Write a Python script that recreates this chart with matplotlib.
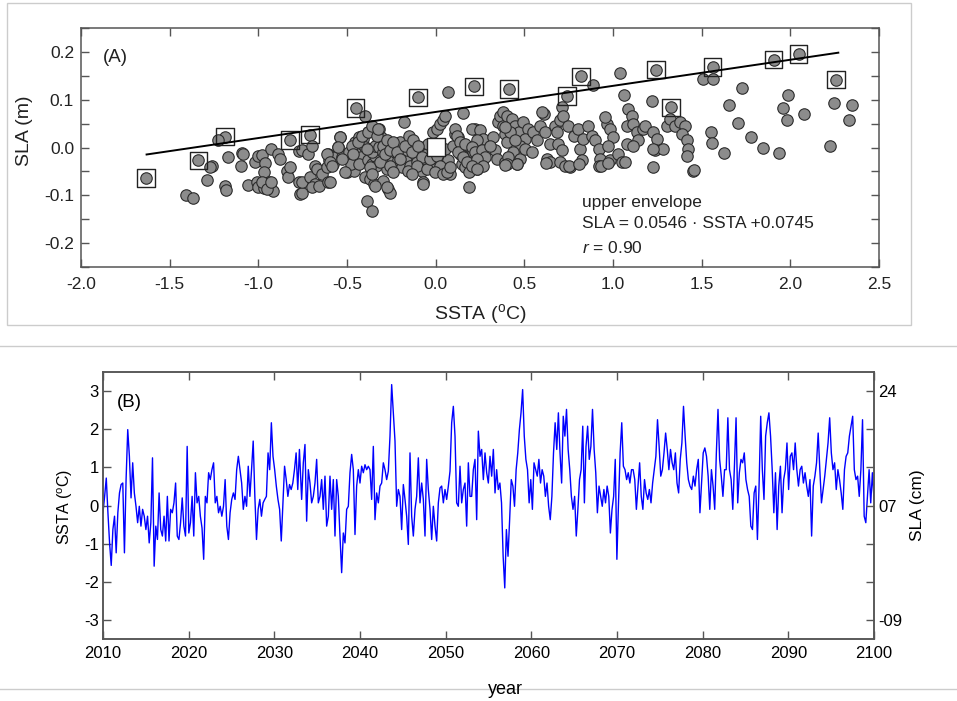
import numpy as np
import matplotlib
matplotlib.use('Agg')
import matplotlib.pyplot as plt
from matplotlib.lines import Line2D
from matplotlib.patches import Rectangle
from matplotlib.ticker import MultipleLocator, FormatStrFormatter

plt.rcParams['font.family'] = ['Liberation Sans', 'DejaVu Sans']
plt.rcParams['mathtext.fontset'] = 'custom'
plt.rcParams['mathtext.rm'] = 'Liberation Sans'
plt.rcParams['mathtext.it'] = 'Liberation Sans:italic'
plt.rcParams['axes.unicode_minus'] = False

# ---- panel A: SSTA vs SLA scatter ----
ssta = [-1.633, -1.338, -1.188, -0.821, -0.708, -0.451, -0.101, 0.217, 0.414, 0.739,
        0.818, 1.241, 1.328, 1.561, 1.905, 2.046, 2.258,
        -1.41, -1.37, -1.29, -1.26, -1.27, -1.19, -1.18, -1.23, -1.17, -1.09,
        -1.10, -1.06, -1.02, -1.00, -0.98, -0.96, -0.97, -1.01, -1.00, -0.97,
        -0.94, -0.92, -0.93, -0.89, -0.88, -0.84, -0.83, -0.82, -0.77, -0.77,
        -0.765, -1.085, -0.98, -0.95, -0.93, -0.755, -0.755, -0.755, -0.72, -0.71,
        -0.68, -0.70, -0.66, -0.68, -0.67, -0.70, -0.64, -0.605, -0.60, -0.61,
        -0.605, -0.58, -0.57, -0.55, -0.54, -0.53, -0.50, -0.46, -0.48, -0.49,
        -0.46, -0.445, -0.455, -0.43, -0.41, -0.40, -0.42, -0.43, -0.40, -0.38,
        -0.39, -0.36, -0.40, -0.37, -0.35, -0.38, -0.36, -0.34, -0.335, -0.36,
        -0.34, -0.32, -0.31, -0.32, -0.295, -0.285, -0.295, -0.267, -0.257, -0.276,
        -0.248, -0.239, -0.229, -0.21, -0.19, -0.18, -0.20, -0.17, -0.16, -0.15,
        -0.135, -0.144, -0.154, -0.116, -0.107, -0.088, -0.078, -0.069, -0.06, -0.05,
        -0.032, -0.041, -0.013, 0.006, 0.025, 0.043, 0.053, 0.072, 0.156, 0.006,
        0.034, 0.053, 0.062, 0.081, 0.072, 0.100, 0.109, 0.128, 0.137, 0.147,
        0.166, 0.175, 0.185, 0.194, 0.213, 0.222, 0.232,
        -0.614, -0.596, -0.586, -0.596, -0.539, -0.549, -0.530, -0.511, -0.473, -0.464,
        -0.436, -0.417, -0.389, -0.380, -0.361, -0.333, -0.323, -0.370, -0.361, -0.314,
        -0.295, -0.285, -0.276, -0.257, -0.239, -0.220, -0.201, -0.257, -0.239, -0.276,
        -0.342, -0.173, -0.135, -0.126, -0.098, -0.078, -0.107, -0.135, -0.069, -0.050,
        -0.032, -0.013, 0.006, 0.025, -0.003, 0.043, 0.062, 0.081, 0.109, 0.119,
        0.137, 0.128, 0.156, 0.175, 0.166, 0.185,
        0.204, 0.250, 0.269, 0.232, 0.204, 0.222, 0.260, 0.278, 0.232, 0.269,
        0.204, 0.232, 0.325, 0.335, 0.344, 0.307, 0.354, 0.363, 0.382, 0.391,
        0.401, 0.391, 0.382,
        0.889, 1.040, 1.059, 1.219, 0.711, 0.401, 0.429, 0.448, 0.467, 0.420,
        0.391, 0.495, 0.523, 0.504, 0.476, 0.448, 0.438, 0.410, 0.476, 0.504,
        0.457, 0.401, 0.551, 0.570, 0.542, 0.589, 0.608, 0.598, 0.617, 0.645,
        0.627, 0.645, 0.673, 0.683, 0.702, 0.720, 0.692, 0.711, 0.702, 0.730,
        0.758, 0.748, 0.777, 0.805, 0.814, 0.833, 0.824, 0.861, 0.880, 0.899,
        0.918, 0.927, 0.918, 0.965, 0.955, 0.984, 1.002, 0.974, 0.984, 1.030,
        1.049, 1.078, 1.078, 1.087, 1.106, 1.115, 1.068, 1.134, 1.143, 1.115,
        1.171, 1.181, 1.228, 1.247, 1.237, 1.284, 1.228, 1.303, 1.322, 1.350,
        1.378, 1.406, 1.388, 1.416, 1.425, 1.416, 1.453, 1.228,
        0.39, 0.46, 0.62, 0.75, 0.81, 0.93, 0.97,
        1.507, 1.566, 1.726, 1.651, 1.707, 1.779, 1.848, 1.937, 1.551, 1.557,
        1.628, 1.459, 1.986, 1.958, 1.980, 2.078, 2.221, 2.247, 2.347, 2.328]

sla = [-0.064, -0.027, 0.023, 0.016, 0.027, 0.083, 0.105, 0.128, 0.123, 0.108,
       0.149, 0.163, 0.084, 0.168, 0.184, 0.196, 0.142,
       -0.099, -0.105, -0.067, -0.038, -0.040, -0.080, -0.088, 0.016, -0.019, -0.012,
       -0.038, -0.078, -0.031, -0.017, -0.015, -0.032, -0.052, -0.073, -0.083, -0.085,
       -0.073, -0.090, -0.003, -0.013, -0.024, -0.048, -0.062, -0.041, -0.008, -0.073,
       -0.097, -0.013, -0.073, -0.087, -0.073, -0.006, -0.096, -0.073, -0.013, -0.062,
       -0.076, -0.083, -0.080, -0.038, -0.045, 0.004, -0.055, -0.013, -0.027, -0.041,
       -0.073, -0.034, -0.020, 0.001, 0.023, -0.020, -0.052, -0.048, -0.034, -0.010,
       -0.003, -0.013, 0.011, 0.023, 0.018, 0.001, -0.020, -0.034, 0.067, 0.032,
       -0.111, -0.132, -0.062, -0.066, -0.076, -0.027, -0.034, -0.017, -0.038, -0.010,
       0.004, 0.001, 0.022, 0.039, -0.010, -0.027, -0.069, -0.087, -0.094, -0.045,
       -0.020, 0.004, -0.010, -0.027, -0.041, 0.053, 0.011, -0.020, -0.006, 0.025,
       0.001, -0.038, -0.048, -0.013, -0.031, 0.001, -0.048, -0.073, -0.024, -0.013,
       -0.041, 0.008, 0.032, 0.039, 0.050, 0.057, 0.067, 0.116, 0.072, -0.020,
       -0.010, -0.003, -0.048, -0.055, -0.027, 0.004, 0.029, 0.022, -0.013, -0.034,
       -0.041, -0.024, -0.083, 0.001, -0.010, 0.039, -0.045,
       -0.013, -0.031, -0.038, -0.073, 0.022, 0.001, -0.024, -0.052, 0.004, -0.013,
       0.011, 0.025, -0.003, 0.032, 0.046, 0.025, 0.039, -0.041, -0.055, -0.031,
       0.004, -0.013, 0.015, -0.006, 0.011, -0.010, -0.024, -0.038, -0.052, -0.083,
       -0.080, 0.004, -0.010, 0.015, 0.004, -0.020, -0.038, -0.055, -0.076, -0.045,
       -0.024, -0.006, -0.017, -0.038, -0.052, -0.055, -0.052, -0.041, 0.039, 0.025,
       0.011, -0.010, -0.020, -0.031, 0.008, -0.052,
       0.039, 0.036, 0.018, 0.015, 0.001, -0.010, -0.006, -0.020, -0.024, -0.038,
       -0.038, -0.045, 0.022, -0.006, -0.024, 0.004, 0.053, 0.067, 0.046, 0.029,
       0.011, -0.031, 0.074,
       0.130, 0.156, 0.110, 0.097, 0.084, 0.067, 0.060, 0.046, 0.032, 0.032,
       0.043, 0.053, 0.039, 0.018, 0.004, 0.015, -0.010, -0.020, -0.024, -0.003,
       -0.034, -0.034, 0.032, 0.015, -0.010, 0.046, 0.071, 0.074, 0.032, 0.008,
       -0.024, -0.031, 0.046, 0.032, 0.057, 0.067, 0.008, -0.006, -0.031, -0.038,
       -0.041, 0.046, 0.025, 0.039, -0.003, 0.018, -0.027, 0.046, 0.025, 0.015,
       -0.003, -0.024, -0.038, 0.050, 0.064, 0.039, 0.022, 0.004, -0.027, -0.013,
       -0.031, 0.008, 0.046, 0.081, 0.067, 0.050, -0.031, 0.032, 0.015, 0.004,
       0.039, 0.046, 0.032, 0.018, -0.006, -0.003, -0.041, 0.046, 0.060, 0.046,
       0.053, 0.046, 0.029, 0.015, -0.003, -0.017, -0.048, -0.003,
       -0.036, -0.035, -0.032, -0.038, -0.035, -0.038, -0.032,
       0.144, 0.143, 0.124, 0.088, 0.051, 0.022, -0.001, -0.012, 0.032, 0.009,
       -0.011, -0.047, 0.109, 0.082, 0.057, 0.071, 0.004, 0.094, 0.090, 0.057]

# upper-envelope points (boxed)
env_ssta = [-1.633, -1.338, -1.188, -0.821, -0.708, -0.451, -0.101, 0.217, 0.414, 0.739,
            0.818, 1.241, 1.328, 1.561, 1.905, 2.046, 2.258]
env_sla = [-0.064, -0.027, 0.023, 0.016, 0.027, 0.083, 0.105, 0.128, 0.123, 0.108,
           0.149, 0.163, 0.084, 0.168, 0.184, 0.196, 0.142]
# the one empty (white) box
blank_ssta = [0.0]
blank_sla = [0.002]

fit_slope = 0.0546
fit_icpt = 0.0745
fit_range = [-1.63, 2.27]

# ---- panel B: SSTA time series, four stretches ----
seg1_span = (2010.0, 2032.93)
seg1 = [-0.19, 0.24, 0.72, -0.19, -0.98, -1.57, -0.63, -0.28, -1.24, -0.19,
        0.33, 0.55, 0.59, -1.24, 0.68, 1.99, 1.29, 0.20, 1.12, 0.33,
        -0.02, -0.45, -0.02, -0.54, -0.10, -0.28, -0.63, -0.28, -0.98, -0.45,
        1.25, -1.59, -0.54, -0.89, 0.33, -0.63, -0.80, -0.28, -0.93, 0.24,
        -0.93, -0.10, -0.19, 0.07, 0.59, -0.80, -0.89, -0.45, 0.20, -0.54,
        -0.80, 1.55, -0.72, -0.45, 0.24, -0.80, 0.86, 0.07, 0.24, -0.28,
        -0.59, -1.41, 0.24, 0.07, 0.86, 0.68, 0.94, 1.12, 0.07, 0.24,
        -0.19, -0.02, -0.28, -0.02, 0.68, -0.54, -0.89, -0.19, 0.16, 0.33,
        0.16, 0.94, 1.29, 0.94, 0.59, -0.10, 0.24, -0.02, 1.03, 0.24,
        0.94, 1.69, 0.24, -0.89, -0.10, 0.16, -0.28, 0.07, 0.16, 0.24,
        1.38, 0.94, 2.17, 1.29, 0.94, 0.51, 0.16, -0.10, -0.93, 0.07,
        1.03, 0.68, 0.24, 0.55, 0.42, 0.59, 0.94, 1.38, 0.42, 1.47]
seg2_span = (2033.19, 2055.76)
seg2 = [0.16, 1.12, 1.60, -0.41, 0.94, 0.59, 0.07, 0.24, 0.59, 1.21,
        0.07, 0.24, 0.68, -0.10, 0.77, -0.54, -0.28, 0.77, -0.10, 0.68,
        -0.80, 0.68, 0.24, -0.80, -1.76, -0.72, -0.98, -0.10, -0.02, 0.86,
        1.34, 0.94, -0.76, 0.51, 0.94, 0.59, 1.03, 0.86, 1.07, 0.94,
        1.03, 0.94, 0.16, 1.55, -0.37, 0.33, 0.07, 0.51, 0.59, 1.12,
        0.94, 0.68, 0.90, 1.82, 3.17, 2.43, 1.69, -0.02, 0.42, 0.24,
        -0.63, 0.55, 0.16, -0.28, -1.02, 1.38, -0.28, -0.80, -0.10, 0.24,
        1.25, 0.07, 0.59, 0.16, -0.80, 1.21, 0.42, -0.10, -0.89, -0.02,
        -0.54, -0.93, 0.07, 0.46, 0.51, 0.07, 0.42, 0.16, 0.51, 0.90,
        2.17, 2.60, 1.82, 0.07, -0.02, 1.03, 0.07, 0.42, 0.59, -0.54,
        1.12, 0.24, 0.24, 0.94, 1.21, -0.37, 1.95, 1.29, 1.47, 0.68,
        1.38, 0.86, 0.59, 1.29, 0.77, 1.47, 0.33]
seg3_span = (2055.95, 2078.52)
seg3 = [0.94, 0.42, 0.59, 0.07, -1.33, -2.16, -0.63, -1.33, -0.37, 0.68,
        0.51, -0.02, 0.94, 1.38, 1.99, 2.43, 3.04, 1.82, 1.21, 0.94,
        0.07, 0.68, -0.10, 1.12, 0.94, 0.77, 1.21, 0.59, 0.94, 0.77,
        0.24, 0.59, -0.02, -0.37, 0.24, 1.38, 2.17, 1.47, 2.43, 1.38,
        0.59, 2.34, 1.82, 2.52, 1.47, 0.94, 0.24, -0.10, 0.24, -0.80,
        -0.10, 0.68, 0.94, 2.08, 0.07, 1.55, 2.08, 1.21, 1.55, 2.52,
        1.47, 0.86, -0.19, 0.51, 0.24, -0.02, 0.42, 0.07, 0.51, 0.24,
        -0.72, -0.10, 0.24, 1.21, -1.41, 0.07, 1.38, 2.17, 1.03, 0.94,
        0.68, 0.86, 0.59, 0.94, 0.94, 0.68, -0.10, 0.51, 1.12, 0.24,
        -0.10, 0.68, 0.33, 0.16, 0.42, 0.07, 0.59, 0.94, 1.29, 2.25,
        1.55, 0.77, 0.94, 1.38, 1.90, 1.47, 0.94, 1.47, 1.12, 0.94,
        1.38, 0.59, 0.33, 1.21, 1.64, 2.60, 1.82, 1.12, 0.68, 0.51]
seg4_span = (2078.72, 2100.0)
seg4 = [0.42, 0.77, 0.51, 0.94, 1.21, -0.19, 0.59, 1.38, 1.51, 1.29,
        0.77, -0.10, 0.94, 0.51, -0.10, 1.38, 2.52, 1.21, 0.77, 0.24,
        0.94, 0.94, 2.30, 0.94, 0.68, -0.10, 1.03, 2.30, 0.07, 0.86,
        1.21, 1.12, 1.38, 0.68, 0.42, 0.24, -0.54, -0.63, 0.33, 0.51,
        -0.89, 0.51, 2.34, 0.94, 0.16, 1.82, 2.17, 2.43, 1.82, 0.94,
        -0.19, 0.86, -0.63, 0.51, 1.03, -0.19, 0.68, 0.94, 1.64, 0.42,
        1.29, 1.38, 0.94, 1.64, 0.94, 0.51, 0.94, 1.03, 0.59, 0.86,
        0.51, 0.24, 0.68, -0.80, 0.51, 0.77, 1.12, 1.90, 0.94, 0.07,
        0.42, 0.77, 1.21, 1.64, 2.30, 1.38, 0.94, 1.12, 0.42, 0.94,
        0.68, 0.33, -0.10, 0.94, 1.29, 1.38, 1.82, 2.08, 2.34, 0.94,
        0.68, 0.77, 0.24, 0.94, 2.25, -0.28, -0.45, 0.24, 0.94, 0.07,
        0.86, 0.16]

left_yticks = [3, 2, 1, 0, -1, -2, -3]
right_ylabels = ['24', '', '', '07', '', '', '-09']

txt = '#222222'
spine = '#555555'

fig = plt.figure(figsize=(9.57, 7.01), dpi=100)

# light frame round panel A and separator lines round panel B
fig.add_artist(Rectangle((7 / 957, 1 - 325 / 701), 904 / 957, 322 / 701,
                         transform=fig.transFigure, fill=False,
                         edgecolor='#cccccc', lw=1.0))
for yy in (346, 689):
    fig.add_artist(Line2D([0, 1], [1 - yy / 701] * 2, transform=fig.transFigure,
                          color='#cccccc', lw=1.0))

# ---------------- panel A ----------------
ax = fig.add_axes([0.0846, 0.619, 0.834, 0.341])
ax.scatter(ssta, sla, s=68, facecolor='#8c8c8c', edgecolor='#2b2b2b',
           linewidth=0.8, zorder=2)
ax.scatter(env_ssta, env_sla, s=160, marker='s', facecolor='none',
           edgecolor='#222222', linewidth=1.0, zorder=3)
ax.scatter(blank_ssta, blank_sla, s=160, marker='s', facecolor='white',
           edgecolor='#222222', linewidth=1.0, zorder=3)
fx = np.array(fit_range)
ax.plot(fx, fit_slope * fx + fit_icpt, color='black', lw=1.4, zorder=4)

ax.set_xlim(-2.0, 2.5)
ax.set_ylim(-0.25, 0.25)
ax.xaxis.set_major_locator(MultipleLocator(0.5))
ax.xaxis.set_major_formatter(FormatStrFormatter('%.1f'))
ax.yaxis.set_major_locator(MultipleLocator(0.1))
ax.yaxis.set_minor_locator(MultipleLocator(0.05))
ax.yaxis.set_major_formatter(FormatStrFormatter('%.1f'))
ax.tick_params(which='both', direction='in', top=True, right=True,
               length=6, width=1, color=spine, labelcolor=txt, labelsize=12.5)
ax.tick_params(axis='x', pad=7)
ax.tick_params(axis='y', pad=5)
for s in ax.spines.values():
    s.set_color(spine)
    s.set_linewidth(1.1)

ax.set_ylabel('SLA (m)', fontsize=14, color=txt)
ax.yaxis.set_label_coords(-0.060, 0.569)
ax.set_xlabel(r'SSTA ($^{\rm o}$C)', fontsize=14, color=txt)
ax.xaxis.set_label_coords(0.5, -0.145)

ax.text(-1.875, 0.189, '(A)', fontsize=13.5, color=txt, va='center')
ax.text(0.824, -0.115, 'upper envelope', fontsize=12.5, color=txt, va='center')
ax.text(0.824, -0.159, 'SLA = 0.0546 \u00b7 SSTA +0.0745', fontsize=12.5,
        color=txt, va='center')
ax.text(0.824, -0.210, r'$\it{r}$ = 0.90', fontsize=12.5, color=txt, va='center')

# ---------------- panel B ----------------
bx = fig.add_axes([0.1076, 0.0884, 0.8057, 0.3809])
years = np.concatenate([np.linspace(*seg1_span, len(seg1)),
                        np.linspace(*seg2_span, len(seg2)),
                        np.linspace(*seg3_span, len(seg3)),
                        np.linspace(*seg4_span, len(seg4))])
vals = np.concatenate([seg1, seg2, seg3, seg4])
bx.plot(years, vals, color='#0000ff', lw=1.0)

bx.set_xlim(2010, 2100)
bx.set_ylim(-3.5, 3.5)
bx.xaxis.set_major_locator(MultipleLocator(10))
bx.set_yticks(left_yticks)
bx.tick_params(which='both', direction='in', top=True, length=6, width=1,
               color=spine, labelcolor='black', labelsize=12)
bx.tick_params(axis='x', pad=5)
bx.tick_params(axis='y', pad=3)
for s in bx.spines.values():
    s.set_color(spine)
    s.set_linewidth(1.1)
bx.set_ylabel(r'SSTA ($^{\rm o}$C)', fontsize=11.5, color='black')
bx.yaxis.set_label_coords(-0.036, 0.494)
bx.text(2011.6, 2.7, '(B)', fontsize=13.5, color='black', va='center')

rx = bx.twinx()
rx.set_ylim(-3.5, 3.5)
rx.set_yticks(left_yticks)
rx.set_yticklabels(right_ylabels)
rx.tick_params(direction='in', length=6, width=1, color=spine,
               labelcolor='black', labelsize=12, pad=3)
for s in rx.spines.values():
    s.set_color(spine)
    s.set_linewidth(1.1)
rx.set_ylabel('SLA (cm)', fontsize=12.5, color='black')
rx.yaxis.set_label_coords(1.047, 0.50)

fig.text(505 / 957, 1 - 690 / 701, 'year', fontsize=13, color='black',
         ha='center', va='center')

fig.savefig('out.png', dpi=100)
